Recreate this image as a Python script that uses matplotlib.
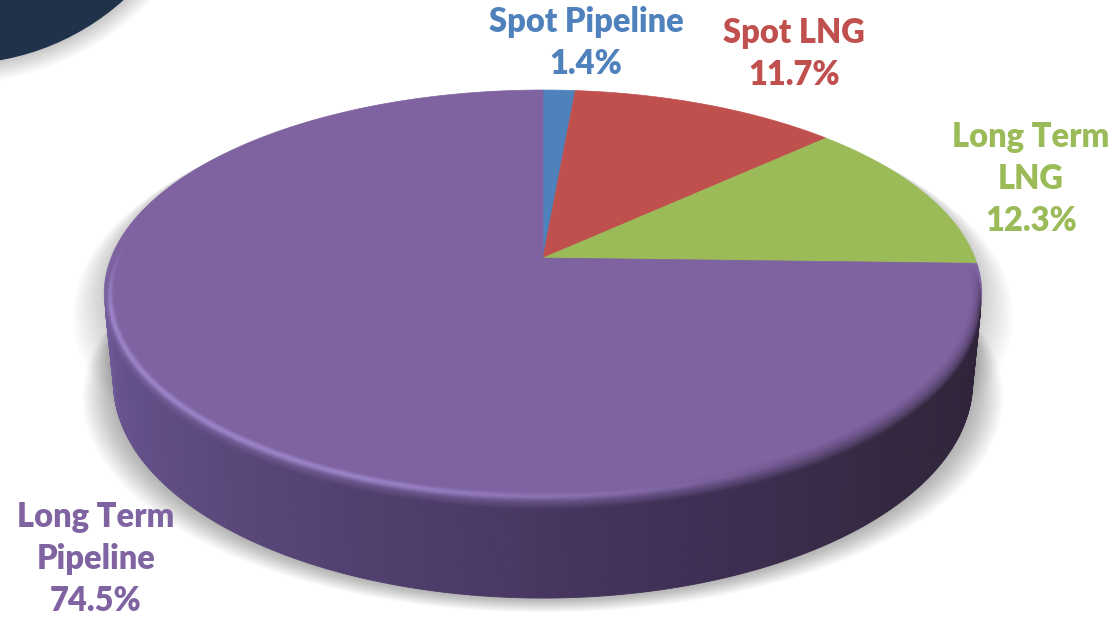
import numpy as np
import matplotlib
matplotlib.use("Agg")
import matplotlib.pyplot as plt
from matplotlib.patches import Polygon, Circle
from matplotlib.colors import to_rgb

# ---------------- data ----------------
categories = ["Spot Pipeline", "Spot LNG", "Long Term LNG", "Long Term Pipeline"]
values = [1.4, 11.7, 12.3, 74.5]
label_lines = [["Spot Pipeline"], ["Spot LNG"], ["Long Term", "LNG"], ["Long Term", "Pipeline"]]
colors = ["#4f81bd", "#c0504d", "#9bbb59", "#7f62a0"]
text_colors = ["#4f81bd", "#c0504d", "#9bbb59", "#8064a2"]

# ---------------- layout ----------------
W, H = 1116, 618
fig = plt.figure(figsize=(W / 100, H / 100), dpi=100)
ax = fig.add_axes([0, 0, 1, 1])
ax.set_xlim(0, W)
ax.set_ylim(H, 0)
ax.axis("off")

# perspective camera for the 3-D pie
CX, CY = 543, 258
SPHI = 0.4575
CPHI = np.sqrt(1 - SPHI ** 2)
DIST = 5.04
FOC = 2177
THICK = 0.2334
BEV = 0.026


def proj(X, Y, Z):
    depth = DIST + Y * CPHI - Z * SPHI
    up = Y * SPHI + Z * CPHI
    return CX + FOC * X / depth, CY - FOC * up / depth


def rim(t_deg, z, r=1.0):
    t = np.radians(t_deg)
    return proj(r * np.cos(t), r * np.sin(t), z)


# ---------------- top-left decoration ----------------
for k in range(18, 0, -1):
    ax.add_patch(Circle((-43, -185), 249 + k * 1.1, color="#000000",
                        alpha=0.013, lw=0, zorder=0))
ax.add_patch(Circle((-43, -185), 249, color="#1f324a", lw=0, zorder=1))

# ---------------- shadow under the pie ----------------
t_vis0 = 180 + np.degrees(np.arcsin(1 / (DIST * CPHI)))
t_vis1 = 540 - t_vis0
tt = np.linspace(0, 360, 361)
bx, by = rim(tt, -THICK)
gx, gy = rim(tt, 0)
for k in range(16, 0, -1):
    s = 1 + k * 0.0045
    ax.add_patch(Polygon(np.column_stack([CX + (bx - CX) * s, by + k * 0.9]),
                         closed=True, color="#000000", alpha=0.02, lw=0, zorder=2))
    ax.add_patch(Polygon(np.column_stack([CX + (gx - CX) * s, CY + (gy - CY) * s + k * 1.2]),
                         closed=True, color="#000000", alpha=0.012, lw=0, zorder=2))

# ---------------- side wall ----------------
stops = [(0.0, "#7560a0"), (0.06, "#68538e"), (0.35, "#524170"),
         (0.6, "#3f3056"), (0.8, "#33283f"), (1.0, "#2e2339")]


def side_color(f):
    f = min(max(f, 0.0), 1.0)
    for (f0, c0), (f1, c1) in zip(stops[:-1], stops[1:]):
        if f <= f1:
            a = (f - f0) / (f1 - f0)
            return (1 - a) * np.array(to_rgb(c0)) + a * np.array(to_rgb(c1))
    return np.array(to_rgb(stops[-1][1]))


ts = np.linspace(t_vis0, t_vis1, 240)
for t0, t1 in zip(ts[:-1], ts[1:]):
    x0t, y0t = rim(t0, -BEV * 0.9)
    x1t, y1t = rim(t1, -BEV * 0.9)
    x0b, y0b = rim(t0, -THICK)
    x1b, y1b = rim(t1, -THICK)
    f = (0.5 * (t0 + t1) - t_vis0) / (t_vis1 - t_vis0)
    c = side_color(f)
    ax.add_patch(Polygon([(x0t, y0t), (x1t, y1t), (x1b, y1b), (x0b, y0b)],
                         closed=True, facecolor=c, edgecolor=c, lw=0.6, zorder=3))

# ---------------- top face ----------------
total = sum(values)
cum = np.concatenate([[0], np.cumsum(values)])
for i, (v, col) in enumerate(zip(values, colors)):
    a0 = 90 - 360 * cum[i] / total
    a1 = 90 - 360 * cum[i + 1] / total
    n = max(4, int(abs(a1 - a0) * 2))
    ang = np.linspace(a0, a1, n)
    px, py = rim(ang, 0)
    cx0, cy0 = proj(0, 0, 0)
    verts = [(cx0, cy0)] + list(zip(px, py))
    ax.add_patch(Polygon(verts, closed=True, facecolor=col, edgecolor=col,
                         lw=0.5, zorder=4))

# ---------------- rounded bevel on the front rim (purple slice only) ----------------
P = np.array(to_rgb(colors[3]))
HC = np.array(to_rgb("#a893da"))
purple_end = 360 + 90 - 360 * cum[3] / total
tb = np.linspace(172, purple_end, 300)
us = np.linspace(0, 1, 13)


def hl_strength(t):
    if t < 250:
        return 1.0
    if t > 300:
        return 0.0
    return (300 - t) / 50.0


for u0, u1 in zip(us[:-1], us[1:]):
    um = 0.5 * (u0 + u1)
    th0, th1 = u0 * np.pi / 2, u1 * np.pi / 2
    r0 = 1 - BEV + BEV * np.sin(th0)
    r1 = 1 - BEV + BEV * np.sin(th1)
    z0 = -BEV * (1 - np.cos(th0))
    z1 = -BEV * (1 - np.cos(th1))
    for t0, t1 in zip(tb[:-1], tb[1:]):
        tm = 0.5 * (t0 + t1)
        f = (tm - t_vis0) / (t_vis1 - t_vis0)
        sc = side_color(f)
        mix = um ** 1.6
        if tm > t_vis1:
            mix *= max(0.0, 1 - (tm - t_vis1) / (purple_end - t_vis1 + 1e-9))
        c = (1 - mix) * P + mix * sc
        h = hl_strength(tm) * np.exp(-((um - 0.38) / 0.17) ** 2) * 0.75
        if tm < 195:
            h *= max(0.0, (tm - 172) / 23.0)
            mix2 = max(0.0, (195 - tm) / 23.0)
            c = (1 - mix2) * c + mix2 * P
        c = (1 - h) * c + h * HC
        c = np.clip(c, 0, 1)
        xa, ya = rim(np.array([t0, t1]), z0, r0)
        xb, yb = rim(np.array([t1, t0]), z1, r1)
        verts = list(zip(xa, ya)) + list(zip(xb, yb))
        ax.add_patch(Polygon(verts, closed=True, facecolor=c, edgecolor=c,
                             lw=0.4, zorder=5))

# ---------------- labels ----------------
label_pos = [(586, 22), (794, 33), (1031, 137), (96, 517)]
line_gap = 42
for lines, v, tc, (lx, ly) in zip(label_lines, values, text_colors, label_pos):
    all_lines = lines + [f"{v:.1f}%"]
    for j, s in enumerate(all_lines):
        ax.text(lx, ly + j * line_gap, s, ha="center", va="center",
                fontsize=23.5, fontweight="heavy", color=tc,
                family=["Lato", "DejaVu Sans"], zorder=10)

fig.savefig("out.png", dpi=100, facecolor="white")
